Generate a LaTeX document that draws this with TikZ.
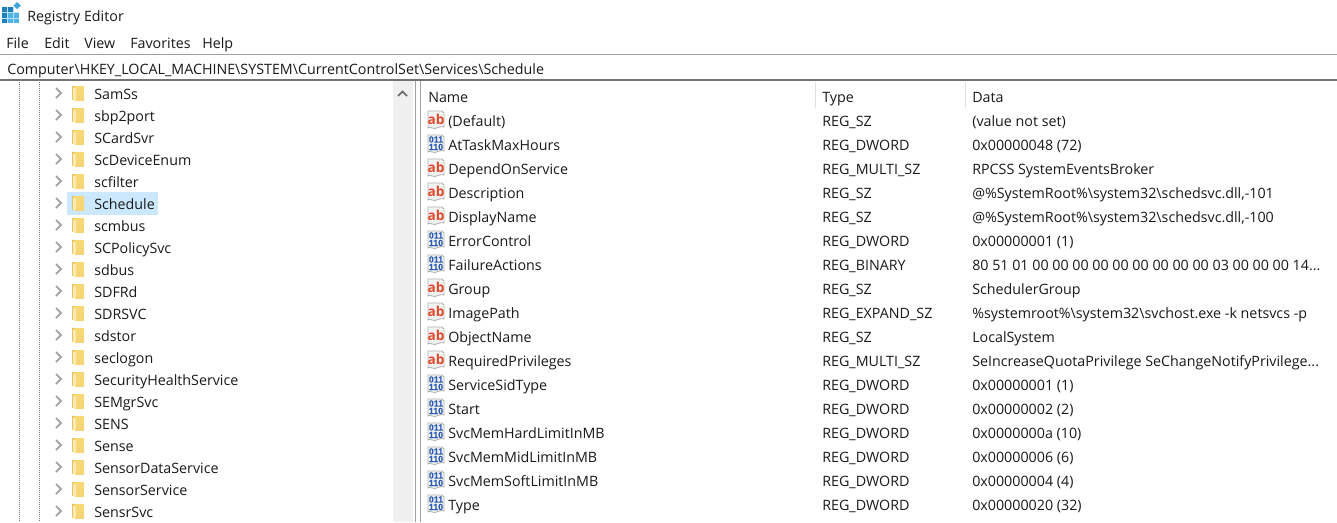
\documentclass[tikz,border=0pt]{standalone}
\usepackage{fontspec}
\setmainfont{Open Sans}
\newfontfamily\binfont[FakeBold=0.8]{Liberation Sans}
\definecolor{folderA}{HTML}{F8D877}
\definecolor{folderB}{HTML}{FCEBB0}
\definecolor{folderC}{HTML}{E6BE5C}
\definecolor{selbg}{HTML}{CCE8FF}
\definecolor{sbbg}{HTML}{F0F0F0}
\definecolor{rule}{HTML}{A0A0A0}
\definecolor{txt}{HTML}{1A1A1A}
\definecolor{abred}{HTML}{E0482A}
\definecolor{binblue}{HTML}{2A5CB4}
\definecolor{iconbg}{HTML}{F4F4F4}
\definecolor{iconline}{HTML}{B0B0B0}
\definecolor{appblue}{HTML}{1E7FBF}
\definecolor{applight}{HTML}{4FB3E6}
\newcommand{\tdots}{.{}.{}.}
\tikzset{
  x=0.75pt,y=-0.75pt,
  lbl/.style={anchor=west,inner sep=0pt,text=txt,font=\fontsize{10.7pt}{12pt}\selectfont,text height=10.6pt,text depth=1.6pt},
  chev/.style={draw=#1,line width=1.5pt,line cap=butt,line join=miter},
  chev/.default={black!35},
  dotline/.style={draw=black!55,line width=0.75pt,dash pattern=on 0.75pt off 0.75pt},
}
\newcommand{\foldericon}[1]{%
  \fill[folderC] (72,#1-7) rectangle (84,#1+7);
  \shade[top color=folderA,bottom color=folderA!85!folderC] (74.5,#1-7) rectangle (84,#1+7);
  \fill[folderB] (72.8,#1-6) -- (76,#1-4) -- (76,#1+7) -- (72.8,#1+7) -- cycle;
}
\newcommand{\iconbase}[1]{%
  \fill[iconbg,draw=iconline,line width=0.6pt] (428,#1-9) -- (442,#1-9) -- (444,#1-7) -- (444,#1+7)
     .. controls (440,#1+5) and (436,#1+10) .. (432,#1+8) .. controls (430,#1+7) and (429,#1+7) .. (428,#1+8) -- cycle;
}
\newcommand{\abicon}[1]{%
  \iconbase{#1}%
  \node[inner sep=0pt,text=abred,font=\bfseries\fontsize{10.2pt}{10pt}\selectfont] at (436,#1-0.8) {ab};
}
\newcommand{\binicon}[1]{%
  \iconbase{#1}%
  \node[inner sep=0pt,text=binblue,font=\binfont\bfseries\fontsize{6.6pt}{7pt}\selectfont] at (436,#1-4.5) {011};
  \node[inner sep=0pt,text=binblue,font=\binfont\bfseries\fontsize{6.6pt}{7pt}\selectfont] at (436,#1+3) {110};
}
\begin{document}
\begin{tikzpicture}
\useasboundingbox (0,0) rectangle (1337,522);
\fill[white] (0,0) rectangle (1337,522);
% title bar
\fill[applight] (2,7) rectangle (19,23);
\fill[appblue] (2,7) rectangle (14,12);
\fill[appblue] (2,7) rectangle (7,23);
\foreach \gx in {7.5,13} \draw[white!60!applight,line width=0.6pt] (\gx,7) -- (\gx,23);
\foreach \gy in {12.5,18} \draw[white!60!applight,line width=0.6pt] (2,\gy) -- (19,\gy);
\fill[white] (14,7) rectangle (19,12);
\fill[applight!70!appblue] (17,2) -- (21,5.5) -- (17,9) -- (13.5,5.5) -- cycle;
\node[lbl] (title) at (27,15) {Registry Editor};
\node[lbl] (mFile) at (6,42) {File};
\node[lbl] (mEdit) at (44,42) {Edit};
\node[lbl] (mView) at (84,42) {View};
\node[lbl] (mFav) at (130,42) {Favorites};
\node[lbl] (mHelp) at (202,42) {Help};
% address bar
\draw[rule,line width=1pt] (0,54.5) -- (1337,54.5);
\draw[black!55,line width=1.5pt] (0,80) -- (1337,80);
\node[lbl] (addr) at (7,68) {Computer\textbackslash HKEY\_LOCAL\_MACHINE\textbackslash SYSTEM\textbackslash CurrentControlSet\textbackslash Services\textbackslash Schedule};
% tree pane
\fill[selbg] (67,192) rectangle (158,215);
\draw[dotline] (19.5,82) -- (19.5,522);
\draw[dotline] (39.5,82) -- (39.5,522);
\fill[sbbg] (393,81) rectangle (413,522);
\draw[black!60,line width=1.2pt] (398,96) -- (402.5,91.5) -- (407,96);
\draw[rule,line width=0.9pt] (415.5,81) -- (415.5,522);
\draw[rule,line width=0.9pt] (420.5,81) -- (420.5,522);
\foreach \lab [count=\i from 0] in {SamSs,sbp2port,SCardSvr,ScDeviceEnum,scfilter,Schedule,scmbus,SCPolicySvc,sdbus,SDFRd,SDRSVC,sdstor,seclogon,SecurityHealthService,SEMgrSvc,SENS,Sense,SensorDataService,SensorService,SensrSvc}{
  \pgfmathsetmacro{\ry}{93+22*\i}
  \draw[chev] (56,\ry-5) -- (61,\ry) -- (56,\ry+5);
  \foldericon{\ry}
  \node[lbl] (tree\i) at (94,\ry) {\lab};
}
% header
\draw[black!12,line width=0.8pt] (815.5,82) -- (815.5,108);
\draw[black!12,line width=0.8pt] (965.5,82) -- (965.5,108);
\node[lbl] (hName) at (428,96) {Name};
\node[lbl] (hType) at (822,96) {Type};
\node[lbl] (hData) at (972,96) {Data};
% rows
\foreach \kind/\nm/\ty/\da [count=\i from 0] in {
 a/(Default)/REG\_SZ/(value not set),
 b/AtTaskMaxHours/REG\_DWORD/0x00000048 (72),
 a/DependOnService/REG\_MULTI\_SZ/RPCSS SystemEventsBroker,
 a/Description/REG\_SZ/@\%SystemRoot\%\textbackslash system32\textbackslash schedsvc.dll{,}-101,
 a/DisplayName/REG\_SZ/@\%SystemRoot\%\textbackslash system32\textbackslash schedsvc.dll{,}-100,
 b/ErrorControl/REG\_DWORD/0x00000001 (1),
 b/FailureActions/REG\_BINARY/80 51 01 00 00 00 00 00 00 00 00 00 03 00 00 00 14\tdots,
 a/Group/REG\_SZ/SchedulerGroup,
 a/ImagePath/REG\_EXPAND\_SZ/\%systemroot\%\textbackslash system32\textbackslash svchost.exe -k netsvcs -p,
 a/ObjectName/REG\_SZ/LocalSystem,
 a/RequiredPrivileges/REG\_MULTI\_SZ/SeIncreaseQuotaPrivilege SeChangeNotifyPrivilege\tdots,
 b/ServiceSidType/REG\_DWORD/0x00000001 (1),
 b/Start/REG\_DWORD/0x00000002 (2),
 b/SvcMemHardLimitInMB/REG\_DWORD/0x0000000a (10),
 b/SvcMemMidLimitInMB/REG\_DWORD/0x00000006 (6),
 b/SvcMemSoftLimitInMB/REG\_DWORD/0x00000004 (4),
 b/Type/REG\_DWORD/0x00000020 (32)}{
  \pgfmathsetmacro{\ry}{120+24*\i}
  \if\kind a\abicon{\ry}\else\binicon{\ry}\fi
  \node[lbl] (name\i) at (448,\ry) {\nm};
  \node[lbl] (type\i) at (822,\ry) {\ty};
  \node[lbl] (data\i) at (972,\ry) {\da};
}
\end{tikzpicture}
\end{document}
